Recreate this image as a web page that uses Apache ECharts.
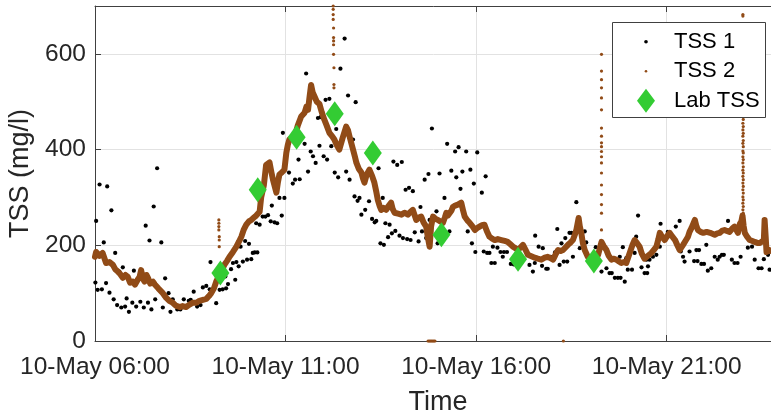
<!DOCTYPE html>
<html><head><meta charset="utf-8">
<script src="https://cdn.jsdelivr.net/npm/echarts@6/dist/echarts.min.js"></script>
<style>html,body{margin:0;padding:0;background:#fff}#c{width:771px;height:414px}</style>
</head><body><div id="c"></div>
<script>
// All times are hours after 10-May 06:00; values in mg/l
const tss1 = [[0.01,122],[0.03,251],[0.07,107],[0.12,327],[0.18,108],[0.23,206],[0.29,121],[0.32,323],[0.38,101],[0.43,273],[0.49,87],[0.53,184],[0.58,75],[0.64,145],[0.69,70],[0.73,154],[0.79,72],[0.83,89],[0.89,61],[0.98,80],[1.02,147],[1.08,72],[1.19,82],[1.23,147],[1.28,70],[1.33,241],[1.39,80],[1.43,210],[1.48,66],[1.54,281],[1.58,87],[1.63,361],[1.69,107],[1.74,206],[1.78,70],[1.84,131],[1.93,100],[1.98,61],[2.04,87],[2.16,66],[2.24,66],[2.33,87],[2.46,84],[2.51,86],[2.59,103],[2.68,72],[2.77,75],[2.83,112],[2.92,115],[3.01,108],[3.03,165],[3.18,79],[3.27,107],[3.35,108],[3.42,135],[3.44,110],[3.49,119],[3.57,150],[3.62,163],[3.68,128],[3.71,165],[3.77,156],[3.82,197],[3.88,166],[3.94,209],[3.99,170],[4.04,203],[4.10,171],[4.14,184],[4.19,185],[4.23,246],[4.26,185],[4.32,243],[4.40,260],[4.47,260],[4.54,263],[4.61,250],[4.64,283],[4.71,248],[4.78,246],[4.84,299],[4.90,262],[4.93,435],[4.97,299],[5.09,352],[5.19,329],[5.25,337],[5.34,379],[5.37,338],[5.50,412],[5.54,559],[5.59,354],[5.66,396],[5.72,386],[5.79,372],[5.85,466],[5.89,408],[5.92,468],[6.00,386],[6.05,504],[6.09,379],[6.15,506],[6.20,407],[6.29,352],[6.33,443],[6.38,342],[6.44,569],[6.55,632],[6.59,354],[6.64,513],[6.68,337],[6.77,421],[6.81,302],[6.84,499],[6.89,293],[6.94,299],[6.99,264],[7.09,274],[7.19,292],[7.27,255],[7.34,248],[7.38,251],[7.44,361],[7.49,204],[7.55,299],[7.58,201],[7.62,246],[7.69,217],[7.73,243],[7.79,225],[7.83,375],[7.88,230],[7.93,368],[7.99,220],[8.05,374],[8.08,215],[8.15,316],[8.19,213],[8.24,320],[8.28,211],[8.34,313],[8.39,227],[8.49,208],[8.54,280],[8.58,229],[8.65,337],[8.69,215],[8.75,349],[8.78,253],[8.84,444],[8.96,271],[8.99,204],[9.04,350],[9.17,299],[9.24,412],[9.30,229],[9.35,356],[9.45,396],[9.48,342],[9.54,405],[9.59,318],[9.64,354],[9.74,396],[9.78,229],[9.85,358],[9.89,204],[9.94,329],[9.98,186],[10.03,394],[10.15,310],[10.20,187],[10.25,344],[10.29,184],[10.35,184],[10.40,163],[10.44,197],[10.49,163],[10.56,195],[10.64,186],[10.70,176],[10.73,186],[10.81,186],[10.91,161],[10.99,160],[11.15,170],[11.40,159],[11.49,145],[11.54,163],[11.55,220],[11.64,197],[11.73,157],[11.75,194],[11.84,151],[11.88,151],[11.96,176],[12.07,185],[12.13,234],[12.19,159],[12.24,204],[12.30,166],[12.34,215],[12.39,166],[12.45,226],[12.50,226],[12.54,176],[12.63,290],[12.72,194],[12.85,229],[12.89,206],[13.14,196],[13.29,145],[13.42,152],[13.50,142],[13.56,142],[13.64,132],[13.72,132],[13.77,176],[13.79,132],[13.85,196],[13.90,124],[13.94,173],[13.98,149],[14.09,149],[14.16,184],[14.20,218],[14.25,262],[14.34,154],[14.42,142],[14.47,170],[14.49,142],[14.51,156],[14.55,170],[14.64,176],[14.73,180],[14.82,197],[14.84,245],[15.03,228],[15.24,239],[15.34,251],[15.37,187],[15.43,176],[15.47,166],[15.60,187],[15.72,167],[15.78,190],[15.81,167],[15.85,190],[15.91,161],[15.98,161],[16.04,201],[16.08,147],[16.17,152],[16.26,176],[16.34,170],[16.39,176],[16.45,180],[16.50,180],[16.61,251],[16.71,170],[16.78,163],[16.86,163],[16.94,176],[17.13,195],[17.24,197],[17.31,170],[17.41,152],[17.49,152],[17.55,171],[17.66,180],[17.70,149]];

const tss2Line = [[0,176],[0.03,186],[0.07,190],[0.12,178],[0.20,184],[0.29,163],[0.38,165],[0.47,159],[0.53,150],[0.60,145],[0.66,140],[0.73,132],[0.80,138],[0.86,134],[0.92,122],[0.99,124],[1.05,118],[1.12,128],[1.17,134],[1.21,148],[1.26,130],[1.30,124],[1.35,138],[1.39,132],[1.45,120],[1.52,124],[1.57,118],[1.61,121],[1.66,110],[1.69,113],[1.78,100],[1.87,90],[1.95,84],[2.04,80],[2.12,74],[2.22,71],[2.30,73],[2.39,71],[2.48,76],[2.57,80],[2.66,80],[2.74,84],[2.83,86],[2.92,88],[2.99,94],[3.05,100],[3.12,110],[3.18,124],[3.29,142],[3.34,150],[3.40,160],[3.47,168],[3.53,176],[3.62,186],[3.71,197],[3.78,208],[3.84,218],[3.90,232],[3.97,243],[4.04,250],[4.10,253],[4.17,258],[4.23,262],[4.32,270],[4.36,300],[4.43,325],[4.49,368],[4.53,372],[4.58,373],[4.63,352],[4.67,337],[4.72,322],[4.76,310],[4.80,332],[4.84,348],[4.90,352],[4.97,358],[5.02,393],[5.06,410],[5.10,421],[5.17,425],[5.24,427],[5.32,450],[5.41,469],[5.50,477],[5.55,490],[5.59,483],[5.63,510],[5.67,535],[5.71,520],[5.76,511],[5.82,500],[5.89,495],[5.95,478],[6.02,462],[6.08,450],[6.15,435],[6.22,428],[6.28,421],[6.34,410],[6.41,400],[6.50,425],[6.59,448],[6.64,440],[6.68,427],[6.73,412],[6.77,400],[6.82,385],[6.86,372],[6.92,360],[6.99,352],[7.03,340],[7.07,331],[7.13,348],[7.20,358],[7.27,345],[7.33,331],[7.38,312],[7.42,295],[7.47,282],[7.51,274],[7.57,278],[7.64,274],[7.70,282],[7.77,289],[7.81,276],[7.86,268],[7.95,266],[8.04,264],[8.12,268],[8.21,264],[8.28,270],[8.34,274],[8.39,262],[8.43,253],[8.50,258],[8.56,260],[8.62,248],[8.69,239],[8.73,218],[8.78,197],[8.82,240],[8.87,260],[8.94,255],[9.00,253],[9.06,250],[9.13,247],[9.18,258],[9.22,268],[9.26,262],[9.30,260],[9.35,272],[9.39,280],[9.45,283],[9.52,285],[9.57,282],[9.61,289],[9.66,272],[9.70,260],[9.77,252],[9.83,247],[9.90,240],[9.97,232],[10.03,236],[10.09,239],[10.15,242],[10.22,243],[10.28,230],[10.35,218],[10.42,214],[10.49,211],[10.57,213],[10.66,211],[10.75,209],[10.83,207],[10.90,202],[10.97,197],[11.03,194],[11.10,190],[11.17,196],[11.23,201],[11.30,190],[11.36,180],[11.45,177],[11.54,174],[11.62,172],[11.71,170],[11.80,174],[11.88,176],[11.95,173],[12.02,170],[12.08,180],[12.15,190],[12.22,188],[12.28,190],[12.35,196],[12.41,201],[12.48,206],[12.54,211],[12.59,222],[12.63,232],[12.69,257],[12.72,240],[12.76,226],[12.80,205],[12.85,190],[12.93,176],[13.00,175],[13.07,174],[13.14,177],[13.20,180],[13.25,195],[13.29,207],[13.35,198],[13.42,190],[13.48,178],[13.55,170],[13.62,172],[13.68,170],[13.75,166],[13.81,163],[13.88,165],[13.94,163],[14.03,184],[14.10,200],[14.16,211],[14.22,205],[14.29,197],[14.35,182],[14.42,172],[14.51,178],[14.60,184],[14.66,190],[14.73,197],[14.78,212],[14.82,226],[14.88,218],[14.95,211],[15.02,220],[15.08,226],[15.15,218],[15.22,211],[15.28,200],[15.34,190],[15.43,201],[15.50,210],[15.56,218],[15.60,228],[15.65,236],[15.74,253],[15.78,240],[15.82,232],[15.89,228],[15.96,226],[16.05,228],[16.14,226],[16.20,224],[16.26,222],[16.33,225],[16.39,226],[16.45,230],[16.52,232],[16.58,230],[16.65,228],[16.72,235],[16.78,239],[16.83,232],[16.87,226],[16.92,245],[16.96,250],[16.99,262],[17.02,240],[17.05,226],[17.11,218],[17.18,211],[17.25,209],[17.31,207],[17.38,205],[17.45,205],[17.50,208],[17.55,211],[17.57,253],[17.60,215],[17.62,186],[17.66,188],[17.70,190],[17.75,188]];

const tss2Spikes = [
  [3.25,253],[3.25,246],[3.25,239],[3.25,232],[3.26,218],[3.26,211],[3.26,197],
  [6.25,700],[6.25,693],[6.25,682],[6.25,672],[6.26,654],[6.26,634],[6.26,627],[6.26,619],[6.26,599],[6.27,571],[6.27,536],[6.27,529],
  [8.74,0],[8.77,0],[8.80,0],[8.83,0],[8.86,0],[8.89,0],[8.92,0],[12.29,0],
  [13.29,599],[13.29,564],[13.29,546],[13.29,529],[13.29,508],[13.29,483],[13.29,445],[13.29,428],[13.29,414],[13.29,406],[13.29,396],[13.29,385],[13.29,372],[13.29,351],[13.29,326],[13.29,306],[13.29,285],[13.29,267],[13.29,232],
  [17.00,682],[17.00,679],[17.01,640],[17.01,590],[17.01,540],[17.01,500],[17.01,463],[17.00,455],[17.01,448],[17.00,441],[17.01,434],[17.00,428],[17.01,419],[17.00,413],[17.01,406],[17.00,397],[17.01,393],[17.00,385],[17.01,379],[17.00,372],[17.01,364],[17.00,357],[17.01,351],[17.00,344],[17.01,337],[17.00,330],[17.01,323],[17.00,316],[17.01,309],[17.00,301],[17.01,295],[17.00,288],[17.01,281],[17.00,274],[17.01,267]
];

const labTss = [[3.29,142],[4.27,316],[5.29,426],[6.29,475],[7.29,393],[9.09,222],[11.10,171],[13.09,167]];

const xTickHours = [6, 11, 16, 21];   // clock hours of x ticks (every 5 h from 06:00)
const yTicks = [0, 200, 400, 600];

const FONT = 'Liberation Sans, Arial, Helvetica, sans-serif';
const AX = '#404040', TXT = '#262626', GRID = '#e2e2e2';
const BROWN = '#914B17', GREEN = '#33CC33';

const chart = echarts.init(document.getElementById('c'), null, {renderer: 'canvas'});
const xCommon = {type: 'value', min: 0, max: 18, interval: 5};
chart.setOption({
  animation: false,
  textStyle: {fontFamily: FONT},
  grid: {left: 95, right: -10, top: 6, bottom: 73, containLabel: false, outerBoundsMode: 'none'},
  graphic: [{
    type: 'rect', z: 50, silent: true,
    shape: {x: 612.5, y: 22.5, width: 153, height: 95},
    style: {fill: '#fff', stroke: AX, lineWidth: 1}
  }],
  legend: {
    orient: 'vertical', left: 633, top: 28.7, z: 60,
    itemWidth: 46, itemHeight: 26, itemGap: 3.5,
    padding: 0,
    backgroundColor: 'transparent', borderWidth: 0,
    selectedMode: false, symbolKeepAspect: true,
    itemStyle: {borderWidth: 0},
    textStyle: {fontSize: 22, color: '#000', fontFamily: FONT},
    data: [
      {name: 'TSS 1', icon: 'path://M0,0M100,100M43,50A7,7 0 1,1 57,50A7,7 0 1,1 43,50Z'},
      {name: 'TSS 2', icon: 'path://M0,0M100,100M45,50A5,5 0 1,1 55,50A5,5 0 1,1 45,50Z'},
      {name: 'Lab TSS', icon: 'path://M-1,0M19,26M9,1L18,13L9,25L0,13Z'}
    ]
  },
  xAxis: [
    Object.assign({}, xCommon, {
      position: 'bottom',
      axisLine: {show: true, lineStyle: {color: AX, width: 1}},
      axisTick: {show: true, inside: true, length: 6, lineStyle: {color: AX}},
      splitLine: {show: true, lineStyle: {color: GRID, width: 1}},
      axisLabel: {
        show: true, showMaxLabel: false, margin: 14, fontSize: 24.5, color: TXT, fontFamily: FONT,
        formatter: v => {
          const h = xTickHours[0] + v;
          return '10-May ' + String(h).padStart(2, '0') + ':00';
        }
      },
      name: 'Time', nameLocation: 'middle', nameGap: 48,
      nameTextStyle: {fontSize: 27, color: TXT, fontFamily: FONT}
    }),
    Object.assign({}, xCommon, {
      position: 'top',
      axisLine: {show: true, lineStyle: {color: AX, width: 1}},
      axisTick: {show: true, inside: true, length: 6, lineStyle: {color: AX}},
      splitLine: {show: false},
      axisLabel: {show: false}
    })
  ],
  yAxis: {
    type: 'value', min: 0, max: 700, interval: 200,
    axisLine: {show: true, lineStyle: {color: AX, width: 1}},
    axisTick: {show: true, inside: true, length: 6, lineStyle: {color: AX}},
    splitLine: {show: true, lineStyle: {color: GRID, width: 1}},
    axisLabel: {show: true, showMaxLabel: false, margin: 9, fontSize: 24.5, color: TXT, fontFamily: FONT,
      formatter: v => yTicks.indexOf(v) >= 0 ? String(v) : ''},
    name: 'TSS (mg/l)', nameLocation: 'middle', nameGap: 44, nameRotate: 90,
    nameTextStyle: {fontSize: 27, color: TXT, fontFamily: FONT}
  },
  series: [
    {name: 'TSS 1', type: 'scatter', data: tss1, symbol: 'circle', symbolSize: 4.2,
      itemStyle: {color: '#000', opacity: 1}, z: 2, silent: true},
    {name: 'TSS 2', type: 'scatter', data: tss2Spikes, symbol: 'circle', symbolSize: 3.2,
      itemStyle: {color: BROWN, opacity: 1}, z: 3, silent: true},
    {name: 'TSS 2', type: 'line', data: tss2Line, showSymbol: false, symbol: 'none',
      itemStyle: {color: BROWN},
      lineStyle: {color: BROWN, width: 6, join: 'round', cap: 'round'}, z: 3, silent: true},
    {name: 'Lab TSS', type: 'scatter', data: labTss, symbol: 'diamond', symbolSize: [18, 25],
      itemStyle: {color: GREEN, opacity: 1}, z: 4, silent: true}
  ]
});
</script>
</body></html>
